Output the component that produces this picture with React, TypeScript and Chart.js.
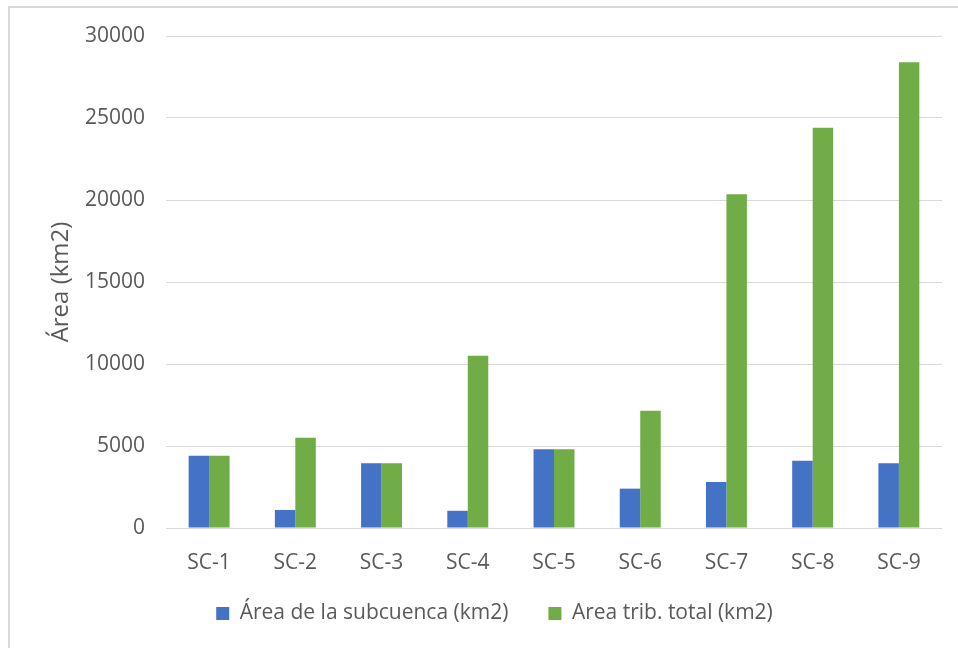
import React, { useEffect, useRef } from "react";
import { Chart, registerables } from "chart.js";

Chart.register(...registerables);

// Subbasin labels along the x axis
const categories = ["SC-1", "SC-2", "SC-3", "SC-4", "SC-5", "SC-6", "SC-7", "SC-8", "SC-9"];

// Area of each subbasin on its own (km2)
const subcuencaArea = [4400, 1100, 3950, 1050, 4800, 2400, 2800, 4100, 3950];

// Total tributary area draining to each subbasin outlet (km2)
const totalArea = [4400, 5500, 3950, 10500, 4800, 7150, 20350, 24400, 28400];

const seriesNames = ["Área de la subcuenca (km2)", "Area trib. total (km2)"];
const yMin = 0;
const yMax = 30000;
const yStep = 5000;

const FONT = "'Open Sans', 'Noto Sans', sans-serif";
const TEXT = "#595959";
const GRID = "#d9d9d9";

// Pulls the bottom legend a little closer to the category labels.
const legendLift = {
  id: "legendLift",
  afterLayout(chart: any) {
    const lg = chart.legend;
    if (lg) {
      lg.top -= 10;
      lg.bottom -= 10;
    }
  },
};

export default function App() {
  const canvasRef = useRef<HTMLCanvasElement | null>(null);

  useEffect(() => {
    if (!canvasRef.current) return;
    const chart = new Chart(canvasRef.current, {
      type: "bar",
      data: {
        labels: categories,
        datasets: [
          {
            label: seriesNames[0],
            data: subcuencaArea,
            backgroundColor: "#4472C4",
            borderWidth: 0,
          },
          {
            label: seriesNames[1],
            data: totalArea,
            backgroundColor: "#70AD47",
            borderWidth: 0,
          },
        ],
      },
      options: {
        animation: false,
        responsive: false,
        maintainAspectRatio: false,
        devicePixelRatio: 1,
        datasets: {
          bar: { categoryPercentage: 0.475, barPercentage: 1 },
        },
        layout: { padding: { top: 36, right: 16, bottom: 4, left: 47 } },
        scales: {
          x: {
            grid: { display: false },
            border: { display: false },
            ticks: {
              color: TEXT,
              font: { family: FONT, size: 21 },
              padding: 14,
            },
            afterFit: (s: any) => {
              s.height = 45;
            },
          },
          y: {
            min: yMin,
            max: yMax,
            grid: { color: GRID, lineWidth: 1, drawTicks: false },
            border: { display: false },
            ticks: {
              stepSize: yStep,
              color: TEXT,
              font: { family: FONT, size: 21 },
              padding: 21,
              callback: (v: any) => String(v),
            },
            title: {
              display: true,
              text: "Área (km2)",
              color: TEXT,
              font: { family: FONT, size: 24 },
              padding: { top: 0, bottom: 0 },
            },
            afterFit: (s: any) => {
              s.width = 119;
            },
          },
        },
        plugins: {
          legend: {
            position: "bottom",
            labels: {
              color: TEXT,
              font: { family: FONT, size: 21 },
              boxWidth: 13,
              boxHeight: 13,
              padding: 40,
            },
          },
          tooltip: { enabled: false },
        },
      },
      plugins: [legendLift],
    });
    return () => chart.destroy();
  }, []);

  return (
    <div
      style={{
        position: "absolute",
        left: 0,
        top: 0,
        width: 958,
        height: 648,
        overflow: "hidden",
        background: "#ffffff",
      }}
    >
      <canvas
        ref={canvasRef}
        width={958}
        height={648}
        style={{ position: "absolute", left: 0, top: 0, width: 958, height: 648 }}
      />
      <div
        style={{
          position: "absolute",
          left: 8,
          top: 6,
          width: 970,
          height: 660,
          borderTop: `2px solid ${GRID}`,
          borderLeft: `2px solid ${GRID}`,
          pointerEvents: "none",
        }}
      />
    </div>
  );
}
